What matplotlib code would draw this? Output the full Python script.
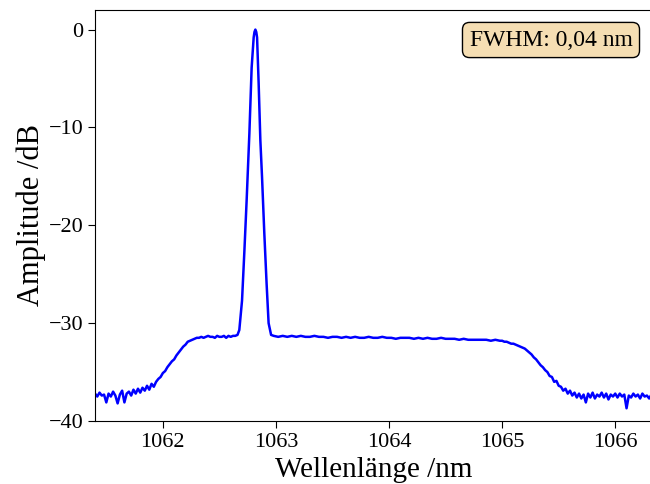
import numpy as np
import matplotlib
matplotlib.use('Agg')
import matplotlib.pyplot as plt

plt.rcParams['font.family'] = 'serif'
plt.rcParams['font.serif'] = ['Liberation Serif', 'DejaVu Serif']

# SPECTRUM DATA, segments: start wavelength, step, amplitudes in dB
left_start, left_step = 1061.40, 0.02
left_db = [-37.2, -37.5, -37.1, -37.4, -37.3, -38.1, -37.2, -37.5, -37.0, -37.4,
           -38.2, -37.3, -36.9, -38.1, -37.2, -37.0, -37.4, -36.8, -37.2, -36.7,
           -37.1, -36.6, -36.9, -36.4, -36.8, -36.2, -36.5]

rise_start, rise_step = 1061.94, 0.02
rise_db = [-36.0, -35.7, -35.5, -35.1, -34.9, -34.5, -34.2, -33.9, -33.7, -33.3,
           -33.0, -32.7, -32.4, -32.2, -31.9, -31.8, -31.7, -31.6, -31.5, -31.5,
           -31.4, -31.5, -31.4, -31.3, -31.4, -31.4, -31.5, -31.3, -31.4, -31.4,
           -31.3, -31.5, -31.3, -31.4, -31.3, -31.3, -31.2]

peak_nm = [1062.676, 1062.700, 1062.721, 1062.741, 1062.765, 1062.785, 1062.803, 1062.810,
           1062.818, 1062.826, 1062.833, 1062.847, 1062.862, 1062.877, 1062.897, 1062.917,
           1062.935, 1062.957]
peak_db = [-30.7, -27.7, -22.6, -17.4, -10.6, -3.9, -0.8, -0.25,
           0.0, -0.25, -0.8, -5.5, -11.3, -15.1, -20.8, -25.9,
           -30.0, -31.2]

flat_start, flat_step = 1062.98, 0.04
flat_db = [-31.3, -31.4, -31.3, -31.4, -31.3, -31.4, -31.3, -31.4, -31.4, -31.3,
           -31.4, -31.4, -31.5, -31.4, -31.4, -31.5, -31.4, -31.5, -31.4, -31.5,
           -31.5, -31.4, -31.5, -31.5, -31.4, -31.5, -31.5, -31.6, -31.5, -31.5,
           -31.5, -31.6, -31.5, -31.6, -31.5, -31.6, -31.6, -31.5, -31.6, -31.6,
           -31.6, -31.7, -31.6, -31.7, -31.7, -31.7, -31.7, -31.7, -31.8, -31.7]

drop_start, drop_step = 1064.98, 0.02
drop_db = [-31.8, -31.8, -31.9, -31.9, -32.0, -32.1, -32.1, -32.2, -32.3, -32.4,
           -32.5, -32.6, -32.8, -33.0, -33.2, -33.5, -33.7, -34.0, -34.3, -34.5,
           -34.8, -35.0, -35.4, -35.5, -36.0, -35.9, -36.4, -36.5, -36.9, -36.7,
           -37.2, -36.9]

right_start, right_step = 1065.62, 0.02
right_db = [-37.4, -37.1, -37.6, -37.2, -37.7, -37.3, -38.1, -37.2, -37.6, -37.1,
            -37.7, -37.3, -37.5, -37.1, -37.6, -37.2, -37.8, -37.3, -37.5, -37.2,
            -37.6, -37.2, -37.5, -37.3, -38.7, -37.4, -37.6, -37.2, -37.5, -37.3,
            -37.7, -37.2, -37.5, -37.4, -37.7, -37.3, -37.5]

x_ticks = [1062, 1063, 1064, 1065, 1066]
y_ticks = [0, -10, -20, -30, -40]
fwhm_text = 'FWHM: 0,04 nm'


def segment(start, step, values):
    return start + step * np.arange(len(values)), np.array(values)


def build_spectrum():
    parts = [segment(left_start, left_step, left_db),
             segment(rise_start, rise_step, rise_db),
             (np.array(peak_nm), np.array(peak_db)),
             segment(flat_start, flat_step, flat_db),
             segment(drop_start, drop_step, drop_db),
             segment(right_start, right_step, right_db)]
    wl = np.concatenate([p[0] for p in parts])
    amp = np.concatenate([p[1] for p in parts])
    return wl, amp


wl, amp = build_spectrum()

fig = plt.figure(figsize=(6.5, 4.84), dpi=100)
# axes end just past the right edge, as in the cropped original
ax = fig.add_axes([95 / 650, 63 / 484, 557 / 650, 411 / 484])

ax.plot(wl, amp, color='#0000ff', linewidth=1.8)
ax.set_xlim(1061.4, 1066.325)
ax.set_ylim(-40, 2)
ax.set_xticks(x_ticks)
ax.set_yticks(y_ticks)
ax.tick_params(labelsize=16, length=5)
ax.set_xlabel('Wellenlänge /nm', fontsize=21, labelpad=4)
ax.set_ylabel('Amplitude /dB', fontsize=22, labelpad=2)

fig.text(551 / 650, 1 - 40 / 484, fwhm_text, fontsize=17, ha='center', va='center',
         bbox=dict(boxstyle='round,pad=0.3', facecolor='wheat', edgecolor='black', linewidth=1))

fig.savefig('out.png', dpi=100)
